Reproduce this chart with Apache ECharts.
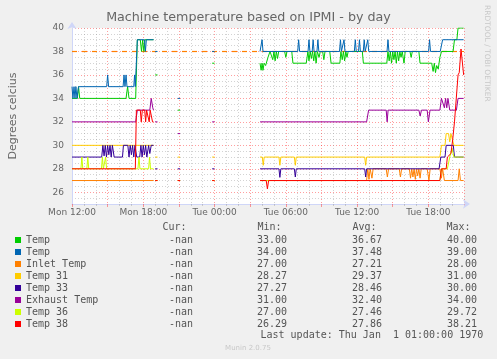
<!DOCTYPE html>
<html>
<head>
<meta charset="utf-8">
<script src="https://cdn.jsdelivr.net/npm/echarts@6/dist/echarts.min.js"></script>
<style>
  html, body { margin: 0; padding: 0; background: #F0F0F0; }
  #chart { width: 497px; height: 359px; }
</style>
</head>
<body>
<div id="chart"></div>
<script>
// hours since Mon 12:00, temperature; [t, null] breaks the line
var tempGreen = [[0,34],[0.45,34],[0.55,35],[0.65,34],[4.55,34],[4.68,35],[4.8,34],[5.36,34],[5.5,39],[5.75,39],[5.85,38],[5.95,39],[6.05,38],[6.15,39],[6.86,39],[6.93,null],
  [7.0,36],[7.2,36],[7.3,null],[8.9,33],[9.1,33],[9.2,null],[11.8,37],[12.0,37],[12.1,null],
  [15.83,37],[15.92,36.4],[16.0,37],[16.08,36.4],[16.17,37],[16.3,36.8],[16.5,37.5],[16.67,38],[16.8,38],[16.9,37.3],[17.0,38],[17.1,37.2],[17.2,38],[17.3,37.4],[17.4,38],[17.9,38],[18.0,37.5],[18.1,38],[18.5,38],[18.6,37],
  [19.72,37],[19.86,38],[19.95,37.2],[20.05,38],[20.15,37.4],[20.25,38],[20.35,37.2],[20.45,38],[20.55,37],[20.65,38],[20.8,37.5],[20.9,38],[21.1,38],[21.2,37.3],[21.3,38],[21.7,38],[21.81,37],
  [22.55,37],[22.64,38],[22.75,37.3],[22.85,38],[22.95,37.2],[23.05,38],[23.15,37.5],[23.25,38],[24.44,38],[24.53,37],
  [26.5,37],[26.6,38],[26.7,37.2],[26.8,38],[26.9,37],[27.0,38],[27.1,37.3],[27.2,38],[27.3,37],[27.4,38],[27.5,37.2],[27.6,38],[27.7,37.5],[27.8,38],[27.95,37],[28.05,38],[28.45,38],[28.55,37.5],[28.65,38],[29.2,38],[29.3,37],
  [30.28,37],[30.4,36.3],[30.5,37],[30.6,36.2],[30.7,36.8],[30.83,36.5],[30.97,37.5],[31.11,38],[32.08,38],[32.2,39],[32.4,39],[32.5,40],[32.97,40]];

var tempBlue = [[0,35],[0.08,34],[0.17,35],[0.25,34],[0.33,35],[0.42,34],[0.55,35],[2.92,35],[3.0,36],[3.08,35],[4.3,35],[4.38,36],[4.46,35],[4.55,36],[4.63,35],[5.2,35],[5.27,36],[5.33,35],[5.5,39],[6.1,39],[6.18,38],[6.26,39],[6.86,39],[6.93,null],
  [7.0,38],[7.2,38],[7.3,null],[8.9,34],[9.1,34],[9.2,null],[11.8,38],[12.0,38],[12.1,null],
  [15.83,38],[15.92,38],[16.0,39],[16.08,38],[19.0,38],[19.08,39],[19.16,38],[19.87,38],[19.95,39],[20.03,38],[20.22,38],[20.3,39],[20.38,38],[20.62,38],[20.7,39],[20.78,38],
  [22.52,38],[22.6,39],[22.68,38],[22.82,38],[22.9,39],[22.98,38],[23.77,38],[23.85,39],[23.93,38],[24.12,38],[24.2,39],[24.28,38],[24.52,38],[24.6,39],[24.68,38],[24.82,38],[24.9,39],[24.98,38],
  [26.52,38],[26.6,39],[26.68,38],[30.02,38],[30.1,39],[30.18,38],[31.0,38],[31.2,39],[32.97,39]];

var inletTemp = [[0,27],[6.86,27],[6.93,null],[7.0,27],[7.2,27],[7.3,null],[8.9,27],[9.1,27],[9.2,null],[11.8,27],[12.0,27],[12.1,null],
  [15.83,27],[24.8,27],[24.9,28],[25.0,27.1],[25.1,28],[25.25,27.2],[25.35,28],[26.45,28],[26.55,27.3],[26.65,28],[27.55,28],[27.65,27.3],[27.75,28],
  [28.4,28],[28.5,27.2],[28.6,28],[28.7,27.3],[28.8,28],[28.9,27.1],[29.0,28],[29.1,27.4],[29.2,28],[29.3,27.2],[29.4,28],[29.9,28],[30.05,27],[30.15,28],
  [30.97,28],[31.1,27.2],[31.2,28],[31.35,27],[32.5,27],[32.6,28],[32.7,27],[32.97,27]];

var temp31 = [[0,30],[6.86,30],[6.93,null],[7.0,29],[7.2,29],[7.3,null],[8.9,29],[9.1,29],[9.2,null],[11.8,29],[12.0,29],[12.1,null],
  [15.83,29],[16.02,29],[16.1,28.3],[16.18,29],[17.42,29],[17.5,28.3],[17.58,29],[18.72,29],[18.8,28.3],[18.88,29],[24.64,29],[24.72,28.3],[24.8,29],
  [30.97,29],[31.1,30],[31.4,30],[31.5,31],[31.7,31],[31.8,30.3],[31.9,31],[32.05,31],[32.15,30],[32.97,30]];

var temp33 = [[0,29],[2.5,29],[2.6,30],[2.7,29.1],[2.8,30],[2.9,29],[3.0,30],[3.1,29.2],[3.2,30],[3.3,29],[3.4,30],[3.55,29],[4.25,29],[4.33,30],[4.7,30],[4.8,29],[4.9,30],[5.0,29.2],[5.1,30],[5.2,29],[5.3,30],[5.45,29],
  [5.7,29],[5.8,30],[5.9,29],[6.0,30],[6.1,29.2],[6.2,30],[6.3,29],[6.45,30],[6.55,29.3],[6.67,30],[6.86,30],[6.93,null],
  [7.0,28],[7.2,28],[7.3,null],[8.9,28],[9.1,28],[9.2,null],[11.8,28],[12.0,28],[12.1,null],
  [15.83,28],[17.42,28],[17.5,27.27],[17.58,28],[18.72,28],[18.8,27.3],[18.88,28],[24.64,28],[24.72,27.3],[24.8,28],
  [30.9,28],[31.05,29],[31.4,29],[31.5,30],[32.1,30],[32.2,29],[32.97,29]];

var exhaustTemp = [[0,32],[5.36,32],[5.5,33],[6.55,33],[6.67,34],[6.8,33.2],[6.86,33],[6.93,null],
  [7.0,32],[7.2,32],[7.3,null],[8.9,31],[9.1,31],[9.2,null],[11.8,32],[12.0,32],[12.1,null],
  [15.83,32],[24.8,32],[24.97,33],[26.45,33],[26.53,32],[26.61,33],[29.2,33],[29.31,32.5],[29.42,33],[29.9,33],[30.0,32],[30.14,33],
  [30.97,33],[31.1,34],[31.25,34],[31.35,33.2],[31.45,34],[31.55,33.2],[31.65,34],[31.8,33],[32.36,33],[32.5,34],[32.97,34]];

var temp36 = [[0,28],[0.75,28],[0.83,29],[0.91,28],[1.25,28],[1.33,29],[1.41,28],[2.48,28],[2.56,29],[2.64,28],[2.75,28],[2.83,29],[2.91,28],[5.55,28],[5.64,29],[5.72,28],[6.45,28],[6.53,29],[6.61,28],[6.86,28],[6.93,null],
  [7.0,27],[7.2,27],[7.3,null],[8.9,27],[9.1,27],[9.2,null],[11.8,27],[12.0,27],[12.1,null],
  [15.83,27],[30.97,27],[31.1,28],[31.6,28],[31.8,29],[32.0,29.72],[32.15,29],[32.97,29]];

var temp38 = [[0,28],[5.33,28],[5.42,33],[5.75,33],[5.83,32],[5.92,33],[6.12,33],[6.2,32],[6.28,33],[6.42,33],[6.5,32],[6.58,33],[6.7,33],[6.78,32],[6.86,32],[6.93,null],
  [7.0,27],[7.2,27],[7.3,null],[8.9,27],[9.1,27],[9.2,null],[11.8,27],[12.0,27],[12.1,null],
  [15.83,27],[16.35,27],[16.45,26.29],[16.55,27],[30.97,27],[31.1,28],[31.5,28],[31.6,29],[31.9,29.3],[32.05,30.5],[32.2,32],[32.35,34],[32.5,36],[32.6,36.2],[32.75,38.21],[32.97,36]];

var seriesKeys = ['temp_a', 'temp_b', 'inlet', 'temp31', 'temp33', 'exhaust', 'temp36', 'temp38'];
var seriesLabels = ['Temp', 'Temp', 'Inlet Temp', 'Temp 31', 'Temp 33', 'Exhaust Temp', 'Temp 36', 'Temp 38'];
var seriesColors = ['#00CC00', '#0066B3', '#FF8000', '#FFCC00', '#330099', '#990099', '#CCFF00', '#FF0000'];
var seriesData = [tempGreen, tempBlue, inletTemp, temp31, temp33, exhaustTemp, temp36, temp38];

var curVals = ['-nan', '-nan', '-nan', '-nan', '-nan', '-nan', '-nan', '-nan'];
var minVals = ['33.00', '34.00', '27.00', '28.27', '27.27', '31.00', '27.00', '26.29'];
var avgVals = ['36.67', '37.48', '27.21', '29.37', '28.46', '32.40', '27.46', '27.86'];
var maxVals = ['40.00', '39.00', '28.00', '31.00', '30.00', '34.00', '29.72', '38.21'];

var xTickLabels = ['Mon 12:00', 'Mon 18:00', 'Tue 00:00', 'Tue 06:00', 'Tue 12:00', 'Tue 18:00'];
var warnLevel = 38;

var SANS = 'DejaVu Sans';
var MONO = 'DejaVu Sans Mono';
var FONT_COLOR = '#666666';
var LEGEND_COLOR = '#555555';
var MGRID = 'rgba(255, 0, 0, 0.38)';
var GRID = 'rgba(140, 140, 140, 0.38)';
var AXIS = '#CFD6F8';

var chart = echarts.init(document.getElementById('chart'), null, { renderer: 'canvas' });

var series = seriesKeys.map(function (key, i) {
    var s = {
        name: key,
        type: 'line',
        data: seriesData[i],
        showSymbol: false,
        connectNulls: false,
        color: seriesColors[i],
        lineStyle: { width: 1, color: seriesColors[i] },
        emphasis: { disabled: true },
        z: 3
    };
    if (key === 'inlet') {
        // dashed warning rule for the inlet sensor, drawn under the data lines
        s.markLine = {
            silent: true,
            symbol: ['none', 'none'],
            z: 2,
            label: { show: false },
            lineStyle: { color: '#FF8000', width: 1.2, type: [5, 5], opacity: 1 },
            emphasis: { disabled: true },
            data: [{ yAxis: warnLevel }]
        };
    }
    return s;
});

function headText(x, y, text) {
    return {
        type: 'text', x: x, y: y,
        style: { text: text, fill: LEGEND_COLOR, font: '10px "' + MONO + '"', textVerticalAlign: 'middle' }
    };
}

var richCol = function (w, align) {
    return { width: w, align: align, fontFamily: MONO, fontSize: 10, color: LEGEND_COLOR, lineHeight: 12 };
};

var option = {
    animation: false,
    backgroundColor: '#F0F0F0',
    title: {
        text: 'Machine temperature based on IPMI - by day',
        left: 'center',
        top: 11,
        padding: 0,
        textStyle: { fontFamily: SANS, fontSize: 12.7, fontWeight: 'normal', color: FONT_COLOR }
    },
    grid: {
        left: 68, right: 33, top: 28, bottom: 155,
        show: true, backgroundColor: '#FFFFFF', borderWidth: 0
    },
    xAxis: {
        type: 'value',
        min: 0, max: 33, interval: 3,
        axisLine: { lineStyle: { color: AXIS }, symbol: ['none', 'arrow'], symbolSize: [7, 7], symbolOffset: [0, 6] },
        axisTick: { show: true, length: 3, lineStyle: { color: MGRID } },
        minorTick: { show: true, splitNumber: 3, length: 2, lineStyle: { color: GRID } },
        axisLabel: {
            margin: 4, fontFamily: SANS, fontSize: 9, color: FONT_COLOR,
            formatter: function (v) { return v % 6 === 0 ? xTickLabels[v / 6] : ''; }
        },
        splitLine: { show: true, lineStyle: { color: MGRID, type: [1, 2], width: 1 } },
        minorSplitLine: { show: true, lineStyle: { color: GRID, type: [1, 2], width: 1 } }
    },
    yAxis: {
        type: 'value',
        min: 25, max: 40, interval: 1,
        name: 'Degrees celcius',
        nameLocation: 'middle',
        nameGap: 53,
        nameTextStyle: { fontFamily: SANS, fontSize: 11, color: FONT_COLOR },
        axisLine: { show: true, lineStyle: { color: AXIS }, symbol: ['none', 'arrow'], symbolSize: [7, 7], symbolOffset: [0, 6] },
        axisTick: { show: false },
        axisLabel: {
            margin: 8, fontFamily: SANS, fontSize: 9, color: FONT_COLOR,
            formatter: function (v) { return v % 2 === 0 ? String(v) : ''; }
        },
        splitLine: { show: true, lineStyle: { color: [GRID, MGRID], type: [1, 2], width: 1 } },
        minorSplitLine: { show: true, lineStyle: { color: GRID, type: [1, 2], width: 1 } },
        minorTick: { show: false, splitNumber: 2 }
    },
    legend: {
        orient: 'vertical',
        left: 15,
        top: 234,
        padding: 0,
        itemGap: 0,
        itemWidth: 6,
        itemHeight: 6,
        icon: 'rect',
        selectedMode: false,
        data: seriesKeys,
        textStyle: {
            fontFamily: MONO, fontSize: 10, color: LEGEND_COLOR, lineHeight: 12,
            rich: {
                n: richCol(142, 'left'),
                c: richCol(25, 'right'),
                mn: richCol(94, 'right'),
                av: richCol(95, 'right'),
                mx: richCol(95, 'right')
            }
        },
        formatter: function (name) {
            var i = seriesKeys.indexOf(name);
            return '{n|' + seriesLabels[i] + '}{c|' + curVals[i] + '}{mn|' + minVals[i] +
                '}{av|' + avgVals[i] + '}{mx|' + maxVals[i] + '}';
        }
    },
    graphic: [
        headText(162.5, 227.5, 'Cur:'),
        headText(257.5, 227.5, 'Min:'),
        headText(352.5, 227.5, 'Avg:'),
        headText(446.5, 227.5, 'Max:'),
        headText(260.5, 335.5, 'Last update: Thu Jan  1 01:00:00 1970'),
        {
            type: 'text', x: 248, y: 348.5,
            style: { text: 'Munin 2.0.75', fill: '#c8c8c8', font: '7px "' + SANS + '"', textAlign: 'center', textVerticalAlign: 'middle' }
        },
        {
            type: 'text', x: 487, y: 5, rotation: -Math.PI / 2,
            style: { text: 'RRDTOOL / TOBI OETIKER', fill: '#c8c8c8', font: '7.5px "' + SANS + '"', textAlign: 'left', textVerticalAlign: 'middle' }
        }
    ],
    series: series
};

chart.setOption(option);
</script>
</body>
</html>
